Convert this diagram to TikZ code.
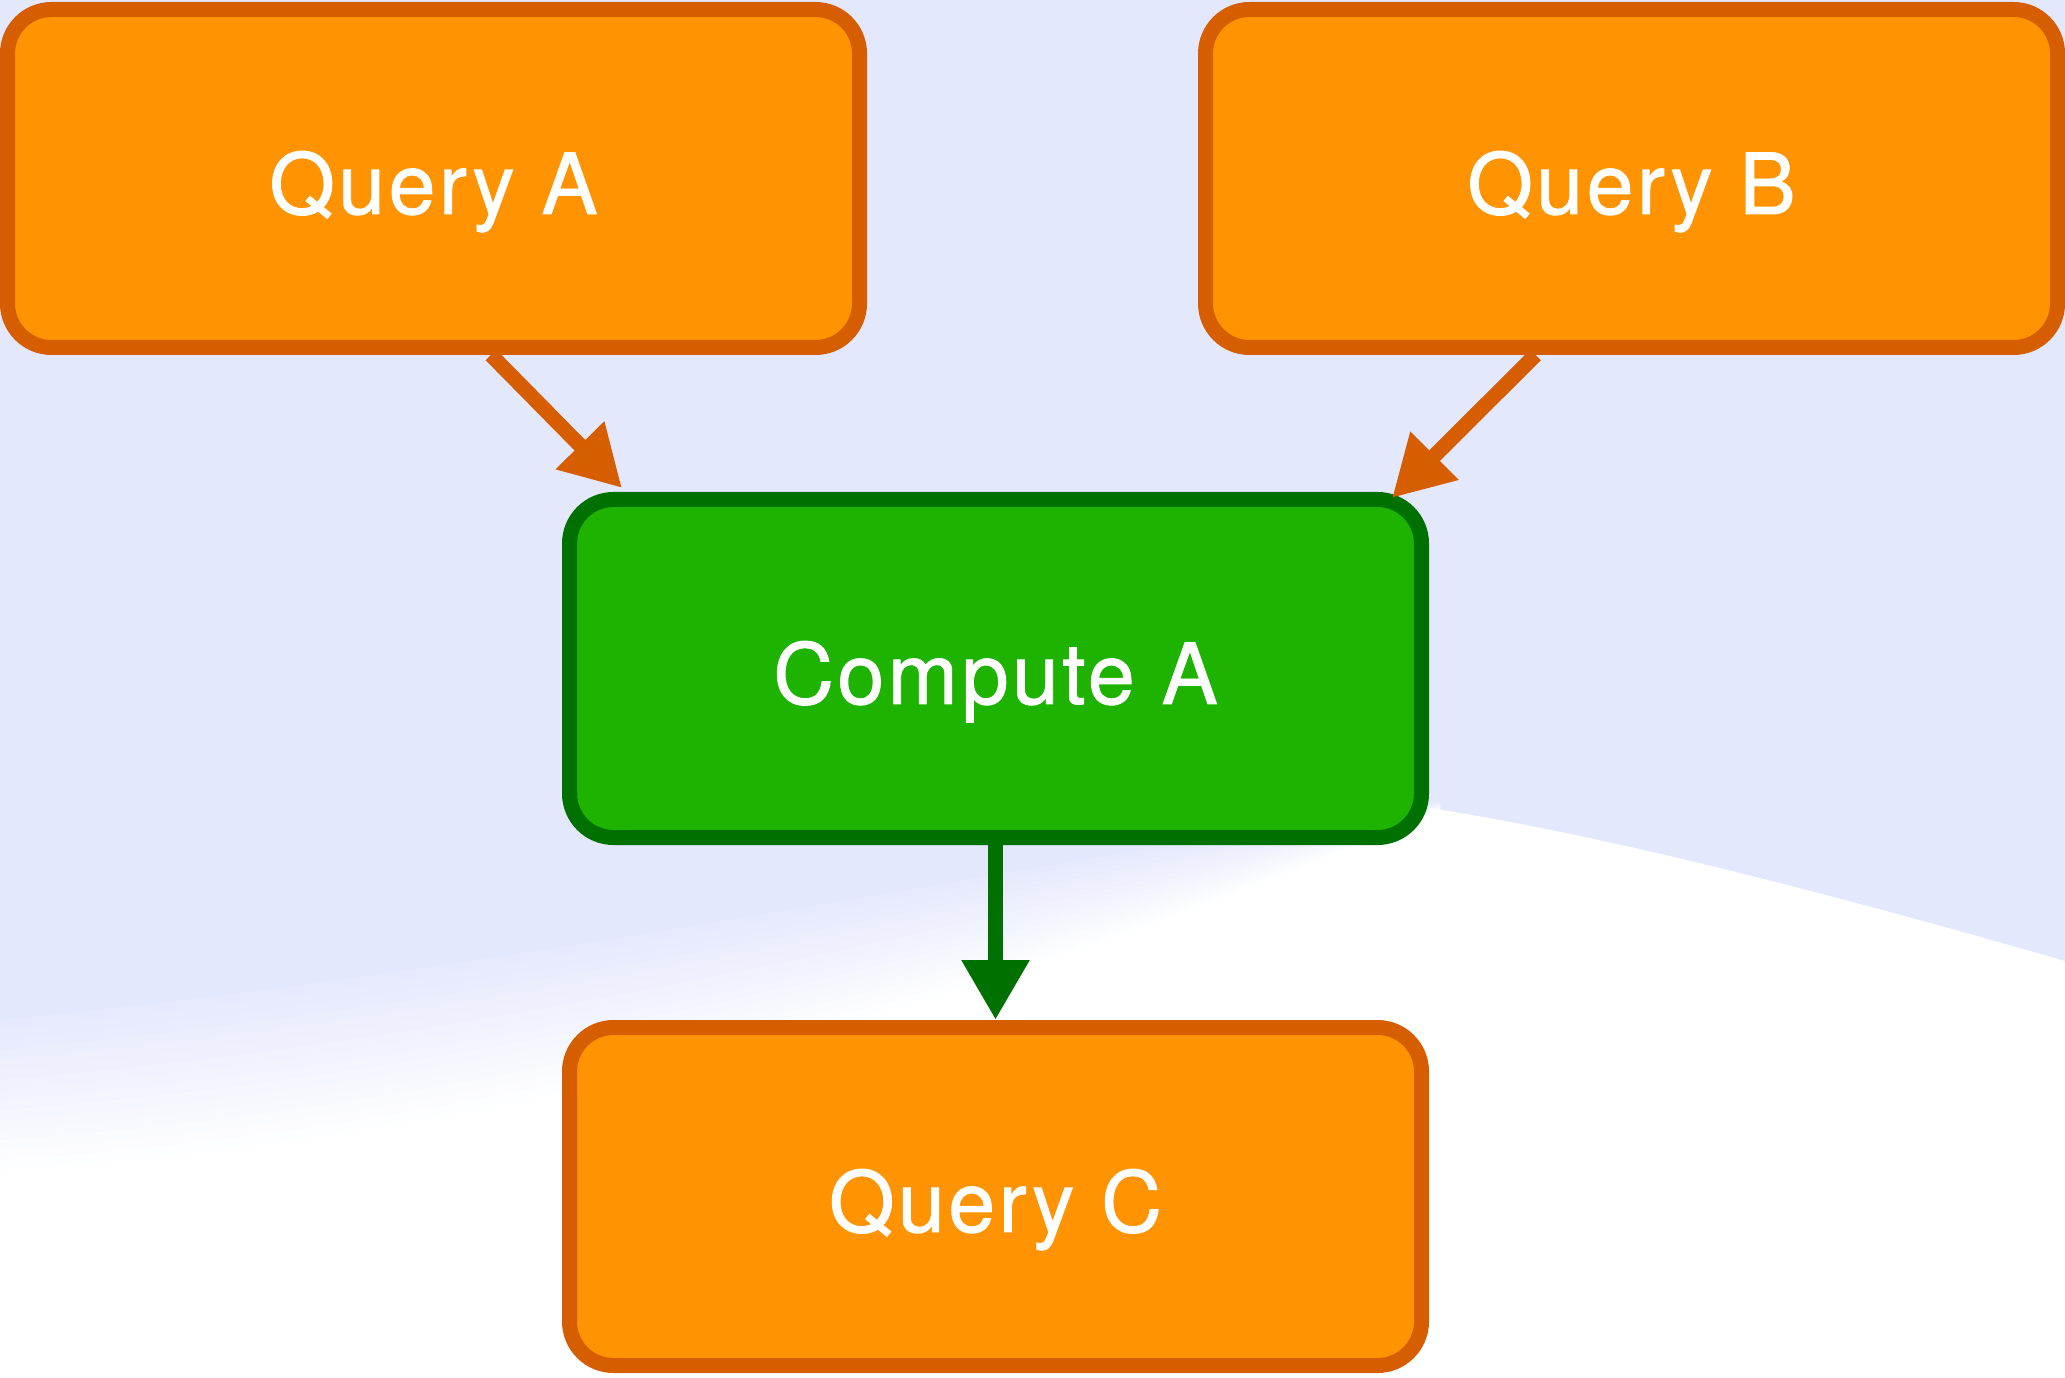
\documentclass[tikz,border=0pt]{standalone}
\usepackage{fontspec}
\setmainfont{TeX Gyre Heros}[LetterSpace=4, FakeBold=1]
\usepackage{xcolor}
\usepackage{tikz}
\usetikzlibrary{arrows.meta, positioning}
\definecolor{bglav}{RGB}{228,232,252}
\definecolor{queryfill}{RGB}{255,147,2}
\definecolor{queryedge}{RGB}{214,94,0}
\definecolor{computefill}{RGB}{30,179,0}
\definecolor{computeedge}{RGB}{0,112,0}
\tikzset{
  querybox/.style={
    draw=queryedge,
    fill=queryfill,
    line width=1.5mm,
    rounded corners=4.4mm,
    align=center,
    text=white,
    text height=7.1mm,
    text depth=0pt,
    minimum width=85.2mm,
    minimum height=33.8mm
  },
  computebox/.style={
    querybox,
    draw=computeedge,
    fill=computefill
  },
  flow/.style={-{Triangle[length=6mm, width=6.4mm]}, line width=1.5mm}
}

\begin{document}
\begin{tikzpicture}[
    font=\fontsize{24}{28}\selectfont
]
\useasboundingbox (0,0) rectangle (20.65,-13.78);
\fill[bglav] (0,0) rectangle (20.65,-13.78);
\foreach \i in {0,...,16}{
  \pgfmathsetmacro{\t}{\i/16}
  \pgfmathtruncatemacro{\pct}{100-100*\t}
  \fill[bglav!\pct!white] (0,{-10.1-1.6*\t}) .. controls (5,{-9.6-1.8*\t}) and (10,{-8.6-1.4*\t}) .. (14.4,{-8.0-0.1*\t}) -- (14.4,-13.78) -- (0,-13.78) -- cycle;
}
\fill[white] (14.3,-8.08) .. controls (16,-8.35) and (18,-8.85) .. (20.65,-9.61) -- (20.65,-13.78) -- (14.3,-13.78) -- cycle;

\node[querybox] (qa) at (4.335,-1.785) {Query A};
\node[querybox, right=33.1mm of qa] (qb) {Query B};
\node[computebox] (ca) at (9.955,-6.685) {Compute A};
\node[querybox, below=17.5mm of ca] (qc) {Query C};

\draw[flow, queryedge] ([xshift=5.75mm]qa.south) -- ([xshift=6mm,yshift=0.4mm]ca.north west);
\draw[flow, queryedge] ([xshift=-9.6mm]qb.south) -- ([xshift=-3.7mm,yshift=-0.6mm]ca.north east);
\draw[flow, computeedge] (ca) -- (qc);
\end{tikzpicture}
\end{document}
